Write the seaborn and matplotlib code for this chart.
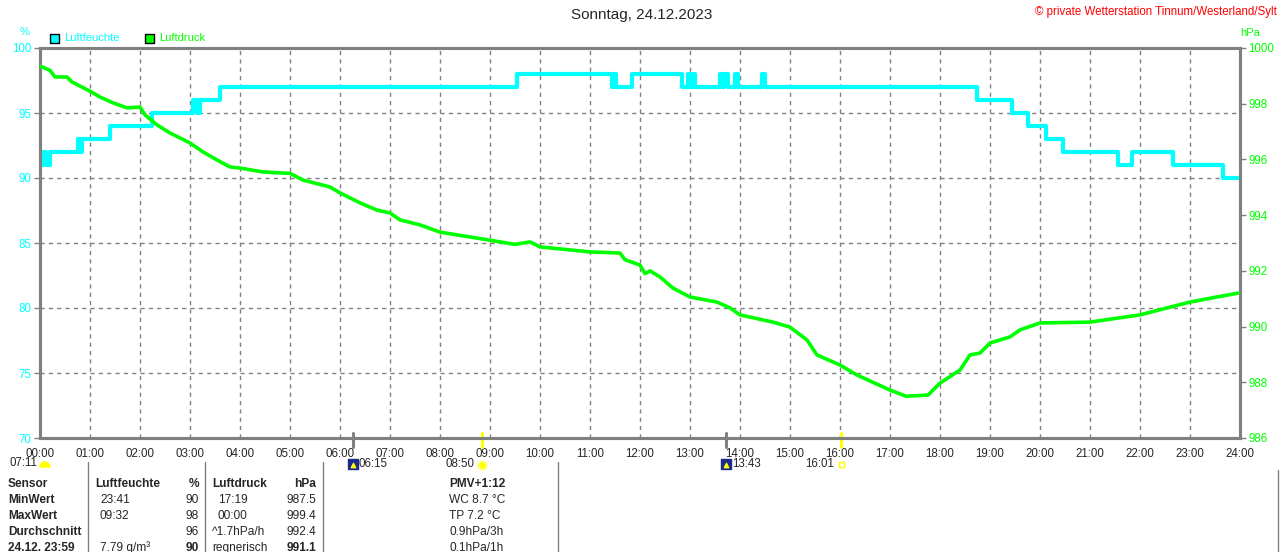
import matplotlib
matplotlib.use("Agg")
import matplotlib.pyplot as plt
import matplotlib.patches as mpatches
from matplotlib.transforms import IdentityTransform
import seaborn as sns

# Luftfeuchte (%), step series: hour of day -> value
hum_time = [0, 0.06, 0.12, 0.2, 0.76, 0.8, 0.84, 1.4, 2.24, 3.06, 3.14, 3.2, 3.6,
            9.54, 11.44, 11.48, 11.52, 11.84, 12.84, 12.96, 13.0, 13.06, 13.1,
            13.6, 13.64, 13.68, 13.76, 13.9, 13.96, 14.44, 14.5, 18.74, 19.44,
            19.76, 20.12, 20.46, 21.56, 21.84, 22.66, 23.66, 24.0]
hum_val = [91, 92, 91, 92, 93, 92, 93, 94, 95, 96, 95, 96, 97,
           98, 97, 98, 97, 98, 97, 98, 97, 98, 97,
           98, 97, 98, 97, 98, 97, 98, 97, 96, 95,
           94, 93, 92, 91, 92, 91, 90, 90]

# Luftdruck (hPa)
p_time = [0, 0.2, 0.3, 0.54, 0.64, 1.0, 1.2, 1.46, 1.74, 2.0, 2.1, 2.34, 2.6, 3.0,
          3.26, 3.54, 3.8, 4.0, 4.46, 5.0, 5.26, 5.8, 6.0, 6.4, 6.74, 7.0, 7.2,
          7.6, 8.0, 9.0, 9.5, 9.8, 10.0, 11.0, 11.6, 11.7, 12.0, 12.1, 12.2,
          12.4, 12.66, 13.0, 13.54, 13.8, 14.0, 14.66, 15.0, 15.34, 15.54, 16.0,
          16.34, 17.0, 17.32, 17.76, 18.0, 18.4, 18.6, 18.8, 19.0, 19.4, 19.6,
          20.0, 21.0, 22.0, 23.0, 23.5, 23.96]
p_val = [999.35, 999.2, 998.96, 998.96, 998.78, 998.45, 998.24, 998.03, 997.85,
         997.88, 997.6, 997.24, 996.95, 996.59, 996.27, 995.98, 995.73, 995.69,
         995.55, 995.5, 995.26, 995.01, 994.8, 994.44, 994.18, 994.08, 993.83,
         993.65, 993.39, 993.1, 992.95, 993.04, 992.86, 992.68, 992.64, 992.4,
         992.21, 991.9, 992.0, 991.78, 991.38, 991.06, 990.88, 990.67, 990.42,
         990.16, 989.98, 989.52, 988.98, 988.62, 988.26, 987.72, 987.5, 987.54,
         987.97, 988.44, 988.98, 989.05, 989.41, 989.63, 989.88, 990.13, 990.16,
         990.42, 990.88, 991.05, 991.2]

hour_labels = [f"{h:02d}:00" for h in range(25)]
hum_ticks = [70, 75, 80, 85, 90, 95, 100]
p_ticks = [986, 988, 990, 992, 994, 996, 998, 1000]

# sun / moon events below the time axis
event_time = [6.25, 8.833, 13.717, 16.017]
event_label = ["06:15", "08:50", "13:43", "16:01"]
event_kind = ["moon", "sun", "moon", "sunset"]

# table below the chart
tab_rows = ["Sensor", "MinWert", "MaxWert", "Durchschnitt", "24.12. 23:59"]
tab_hum_time = ["Luftfeuchte", "23:41", "09:32", "", "7.79 g/m³"]
tab_hum_val = ["%", "90", "98", "96", "90"]
tab_p_time = ["Luftdruck", "17:19", "00:00", "^1.7hPa/h", "regnerisch"]
tab_p_val = ["hPa", "987.5", "999.4", "992.4", "991.1"]
tab_extra = ["PMV+1:12", "WC 8.7 °C", "TP 7.2 °C", "0.9hPa/3h", "0.1hPa/1h"]

CYAN = "#00FFFF"
GREEN = "#00FF00"
GRAY = "#808080"
YELLOW = "#FFFF00"

sns.set_style("white")
plt.rcParams["font.family"] = ["Liberation Sans", "DejaVu Sans"]

W, H = 1280, 552
fig = plt.figure(figsize=(W / 100, H / 100), dpi=100)


def ftext(x, y, s, **kw):
    # x, y in pixels from the top-left corner
    kw.setdefault("fontsize", 8)
    kw.setdefault("va", "center")
    fig.text(x / W, 1 - y / H, s, **kw)


ax = fig.add_axes([40 / W, 114 / H, 1200 / W, 390 / H])
ax2 = ax.twinx()

sns.lineplot(x=hum_time, y=hum_val, ax=ax, color=CYAN, lw=3.0,
             drawstyle="steps-post", estimator=None, zorder=3)
sns.lineplot(x=p_time, y=p_val, ax=ax2, color=GREEN, lw=2.6,
             estimator=None, zorder=3)

ax.set_xlim(0, 24)
ax.set_ylim(70, 100)
ax2.set_ylim(986, 1000)

ax.set_xticks(range(25))
ax.set_xticklabels(hour_labels)
ax.set_yticks(hum_ticks)
ax.set_yticklabels([str(v) for v in hum_ticks], color=CYAN)
ax2.set_yticks(p_ticks)
ax2.set_yticklabels([str(v) for v in p_ticks], color=GREEN)
ax.set_xlabel("")
ax.set_ylabel("")
ax2.set_ylabel("")

ax.tick_params(axis="both", direction="out", length=4, width=1, color=GRAY,
               labelsize=8.3, pad=2)
ax.tick_params(axis="x", pad=3)
ax2.tick_params(axis="y", direction="out", length=4, width=1, color=GRAY,
                labelsize=8.3, pad=2)

ax.grid(True, color=GRAY, ls=(0, (3, 3)), lw=1)
for a in (ax, ax2):
    for sp in a.spines.values():
        sp.set_color(GRAY)
        sp.set_linewidth(2.2)
        sp.set_visible(True)
ax2.grid(False)
ax2.patch.set_visible(False)

# event marks under the axis
xt = ax.get_xaxis_transform()
for t, lab, kind in zip(event_time, event_label, event_kind):
    col = GRAY if kind == "moon" else YELLOW
    ax.plot([t, t], [-0.024, 0.012], color=col, lw=2.2, transform=xt,
            clip_on=False, zorder=5)
    if kind == "moon":
        ax.scatter([t], [-0.066], marker="s", s=60, color="#1C2A8A",
                   transform=xt, clip_on=False, zorder=6)
        ax.scatter([t], [-0.07], marker="^", s=10, color=YELLOW,
                   transform=xt, clip_on=False, zorder=7)
        ax.annotate(lab, xy=(t, -0.066), xycoords=xt, xytext=(4.5, 0),
                    textcoords="offset points", fontsize=8.3, va="center", ha="left")
    elif kind == "sun":
        ax.scatter([t], [-0.068], marker="o", s=40, color=YELLOW,
                   edgecolor="#FFFFA0", lw=1.5, transform=xt, clip_on=False, zorder=6)
        ax.annotate(lab, xy=(t, -0.066), xycoords=xt, xytext=(-5, 0),
                    textcoords="offset points", fontsize=8.3, va="center", ha="right")
    else:
        ax.scatter([t + 0.02], [-0.068], marker="s", s=14, facecolor="none",
                   edgecolor=YELLOW, lw=1, transform=xt, clip_on=False, zorder=6)
        ax.annotate(lab, xy=(t, -0.066), xycoords=xt, xytext=(-5, 0),
                    textcoords="offset points", fontsize=8.3, va="center", ha="right")

# twilight mark at the left
ftext(9, 463, "07:11", fontsize=8.3)
fig.patches.append(mpatches.Wedge((45, H - 467), 5, 0, 180,
                                  transform=IdentityTransform(), color=YELLOW))

# header texts
ftext(642, 15, "Sonntag, 24.12.2023", fontsize=11, ha="center")
ftext(1277, 12, "© private Wetterstation Tinnum/Westerland/Sylt",
      fontsize=8.3, ha="right", color="red")
ftext(25, 32, "%", color=CYAN, ha="center")
ftext(1250, 33, "hPa", color=GREEN, ha="center")

# legend
for x0, col, lab, tx in [(50, CYAN, "Luftfeuchte", 64), (145, GREEN, "Luftdruck", 159)]:
    fig.patches.append(mpatches.Rectangle((x0 / W, 1 - 43 / H), 9 / W, 9 / H,
                                          transform=fig.transFigure,
                                          facecolor=col, edgecolor="black", lw=1))
    ftext(tx, 38, lab, color=col)

# table
row_y = [484, 500, 516, 532, 548]
fs = 8.6
for i, y in enumerate(row_y):
    bold_row = "bold" if i in (0, 4) else "normal"
    head = "bold" if i == 0 else "normal"
    ftext(8, y, tab_rows[i], fontweight="bold", fontsize=fs)
    ftext(95 if i == 0 else 100, y, tab_hum_time[i], fontweight=head, fontsize=fs)
    ftext(199, y, tab_hum_val[i], ha="right", fontweight=bold_row, fontsize=fs)
    ftext(212 if i in (0, 3, 4) else 218, y, tab_p_time[i], fontweight=head, fontsize=fs)
    ftext(316, y, tab_p_val[i], ha="right", fontweight=bold_row, fontsize=fs)
    ftext(449, y, tab_extra[i], fontweight=head, fontsize=fs)

for xs in [88, 205, 323, 558]:
    fig.lines.append(plt.Line2D([xs / W, xs / W], [1 - 462 / H, 0],
                                transform=fig.transFigure, color=GRAY, lw=1))
fig.lines.append(plt.Line2D([1278 / W, 1278 / W], [1 - 470 / H, 0],
                            transform=fig.transFigure, color=GRAY, lw=1))

fig.savefig("out.png", dpi=100)
